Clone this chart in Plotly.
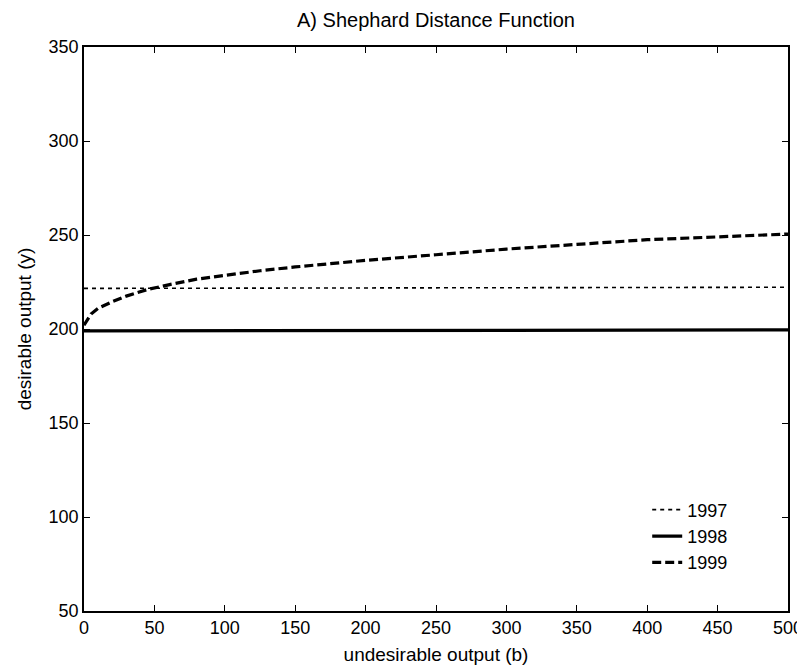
import plotly.graph_objects as go

# Data
b_1997 = [0, 100, 200, 300, 400, 500]
y_1997 = [221.6, 221.7, 221.8, 222.0, 222.1, 222.2]

b_1998 = [0, 100, 200, 300, 400, 500]
y_1998 = [199.0, 199.1, 199.2, 199.3, 199.4, 199.5]

b_1999 = [0, 5, 10, 20, 30, 45, 60, 80, 100, 125, 150, 200, 250, 300, 350, 400, 450, 500]
y_1999 = [202, 208, 211, 214.5, 217.5, 221, 223.5, 226.5, 228.5, 231, 233, 236.5,
          239.5, 242.5, 245, 247.5, 249, 250.5]

x_ticks = [0, 50, 100, 150, 200, 250, 300, 350, 400, 450, 500]
y_ticks = [50, 100, 150, 200, 250, 300, 350]

FONT = "Liberation Sans, Arial, sans-serif"

fig = go.Figure()
fig.add_trace(go.Scatter(x=b_1997, y=y_1997, mode="lines", name="1997",
                         line=dict(color="black", width=1.6, dash="4px,4px")))
fig.add_trace(go.Scatter(x=b_1998, y=y_1998, mode="lines", name="1998",
                         line=dict(color="black", width=3.2)))
fig.add_trace(go.Scatter(x=b_1999, y=y_1999, mode="lines", name="1999",
                         line=dict(color="black", width=3.2, dash="9px,4px")))

axis_common = dict(
    showline=True, linecolor="black", linewidth=1.5, mirror="ticks",
    ticks="inside", ticklen=6, tickwidth=1.2, tickcolor="black",
    showgrid=False, zeroline=False, automargin=False,
    ticklabeloverflow="allow",
    tickfont=dict(family=FONT, size=18, color="black"),
)

# The page body adds an 8px offset, so the figure is sized/margined to compensate
fig.update_layout(
    width=797, height=659,
    paper_bgcolor="white", plot_bgcolor="white",
    margin=dict(l=76, r=17, t=39, b=56),
    title=dict(text="A) Shephard Distance Function", x=0.5, xref="paper",
               y=0.982, yref="container", yanchor="middle", xanchor="center",
               font=dict(family=FONT, size=20, color="black")),
    xaxis=dict(range=[0, 500], tickvals=x_ticks,
               title=dict(text="undesirable output (b)", standoff=10,
                          font=dict(family=FONT, size=19, color="black")),
               **axis_common),
    yaxis=dict(range=[50, 350], tickvals=y_ticks,
               title=dict(text="desirable output (y)", standoff=12,
                          font=dict(family=FONT, size=19, color="black")),
               **axis_common),
    legend=dict(x=0.80, y=0.212, xanchor="left", yanchor="top",
                bgcolor="rgba(0,0,0,0)", borderwidth=0,
                font=dict(family=FONT, size=18, color="black"),
                tracegroupgap=0),
    showlegend=True,
)

fig.write_html("out.html")
